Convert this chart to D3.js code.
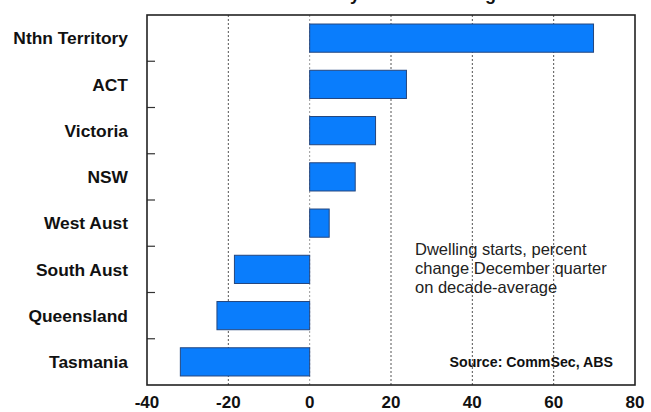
<!DOCTYPE html>
<html>
<head>
<meta charset="utf-8">
<script src="https://cdn.jsdelivr.net/npm/d3@7"></script>
<style>
  html, body { margin: 0; padding: 0; background: #fff; }
  svg { display: block; font-family: Arial, "Liberation Sans", sans-serif; }
</style>
</head>
<body>
<svg id="chart" width="651" height="412"></svg>
<script>
// Dwelling starts by state, percent change December quarter on decade-average
const states = ["Nthn Territory", "ACT", "Victoria", "NSW", "West Aust", "South Aust", "Queensland", "Tasmania"];
const changes = [69.8, 23.8, 16.2, 11.2, 4.8, -18.5, -22.8, -31.8];
const xTicks = [-40, -20, 0, 20, 40, 60, 80];
const gridTicks = [-20, 0, 20, 40, 60];
const titleText = "Relative construction activity: Home building";
const noteLines = ["Dwelling starts, percent", "change December quarter", "on decade-average"];
const sourceText = "Source: CommSec, ABS";

const rows = states.map((s, i) => ({ state: s, value: changes[i] }));

const svg = d3.select("#chart");
const plot = { left: 147, right: 635, top: 15, bottom: 385 };

const x = d3.scaleLinear().domain([-40, 80]).range([plot.left, plot.right]);
const y = d3.scaleBand()
  .domain(states)
  .range([plot.top, plot.bottom])
  .paddingInner(0.39)
  .paddingOuter(0.195);

// Title (sits mostly above the visible area)
svg.append("text")
  .attr("x", 110).attr("y", 0)
  .attr("font-size", 18).attr("font-weight", "bold").attr("fill", "#111")
  .text(titleText);

// Dotted vertical gridlines
svg.append("g").selectAll("line")
  .data(gridTicks).join("line")
  .attr("x1", d => x(d)).attr("x2", d => x(d))
  .attr("y1", plot.top).attr("y2", plot.bottom)
  .attr("stroke", d => d === 0 ? "#999" : "#555")
  .attr("stroke-width", 1)
  .attr("stroke-dasharray", "2,2");

// Bars
svg.append("g").selectAll("rect")
  .data(rows).join("rect")
  .attr("x", d => x(Math.min(0, d.value)))
  .attr("width", d => Math.abs(x(d.value) - x(0)))
  .attr("y", d => y(d.state))
  .attr("height", y.bandwidth())
  .attr("fill", "#0a7dfc")
  .attr("stroke", "#24467e")
  .attr("stroke-width", 1);

// Category ticks on the left edge (between bands)
const step = y.step();
const boundaries = states.slice(1).map(s => y(s) - step * y.paddingInner() / 2);
svg.append("g").selectAll("line")
  .data(boundaries).join("line")
  .attr("x1", plot.left).attr("x2", plot.left + 8)
  .attr("y1", d => d).attr("y2", d => d)
  .attr("stroke", "#333").attr("stroke-width", 1.2);

// Frame
svg.append("rect")
  .attr("x", plot.left).attr("y", plot.top)
  .attr("width", plot.right - plot.left).attr("height", plot.bottom - plot.top)
  .attr("fill", "none").attr("stroke", "#222").attr("stroke-width", 1.6);

// Category labels
svg.append("g").selectAll("text")
  .data(states).join("text")
  .attr("x", 128)
  .attr("y", d => y(d) + y.bandwidth() / 2)
  .attr("dy", "0.36em")
  .attr("text-anchor", "end")
  .attr("font-size", 17.4).attr("font-weight", "bold").attr("fill", "#111")
  .text(d => d);

// X axis labels
svg.append("g").selectAll("text")
  .data(xTicks).join("text")
  .attr("x", d => x(d))
  .attr("y", 408)
  .attr("text-anchor", "middle")
  .attr("font-size", 17).attr("font-weight", "bold").attr("fill", "#111")
  .text(d => d);

// Note
svg.append("g").selectAll("text")
  .data(noteLines).join("text")
  .attr("x", 415)
  .attr("y", (d, i) => 255 + i * 19)
  .attr("font-size", 16.5).attr("fill", "#222")
  .text(d => d);

// Source
svg.append("text")
  .attr("x", 613).attr("y", 367)
  .attr("text-anchor", "end")
  .attr("font-size", 14.2).attr("font-weight", "bold").attr("fill", "#111")
  .text(sourceText);
</script>
</body>
</html>
